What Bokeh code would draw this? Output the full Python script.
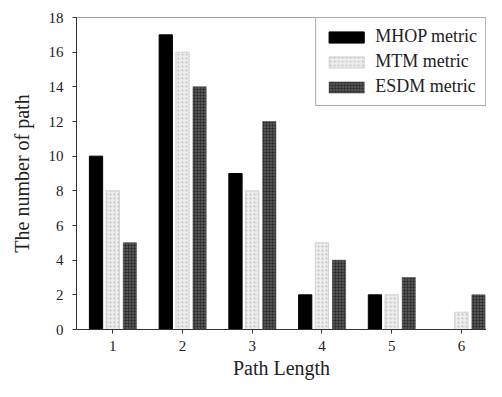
from bokeh.plotting import figure
from bokeh.models import ColumnDataSource, Span, Legend, LegendItem, FixedTicker
from bokeh.transform import dodge
from bokeh.embed import file_html
from bokeh.resources import INLINE

path_length = [1, 2, 3, 4, 5, 6]
mhop = [10, 17, 9, 2, 2, 0]
mtm = [8, 16, 8, 5, 2, 1]
esdm = [5, 14, 12, 4, 3, 2]
y_ticks = [0, 2, 4, 6, 8, 10, 12, 14, 16, 18]

src = ColumnDataSource(dict(x=path_length, mhop=mhop, mtm=mtm, esdm=esdm))

FONT = "Liberation Serif"

p = figure(width=486, height=381, output_backend="svg", toolbar_location=None,
           x_range=(0.48, 6.36), y_range=(0, 18),
           min_border_left=76, min_border_right=0, min_border_top=17, min_border_bottom=50)
p.outline_line_color = None
p.xgrid.visible = False
p.ygrid.visible = False
p.background_fill_color = "white"

w = 0.19
r1 = p.vbar(x=dodge("x", -0.24, range=p.x_range), top="mhop", width=w, source=src,
            fill_color="black", line_color="black")
r2 = p.vbar(x=dodge("x", 0.0, range=p.x_range), top="mtm", width=w, source=src,
            fill_color="#ececec", line_color="#c8c8c8", line_width=0.8,
            hatch_pattern="dot", hatch_color="#b0b0b0", hatch_scale=4, hatch_alpha=0.7)
r3 = p.vbar(x=dodge("x", 0.245, range=p.x_range), top="esdm", width=w, source=src,
            fill_color="#555555", line_color="#444444", line_width=0.5,
            hatch_pattern="cross", hatch_color="#262626", hatch_scale=3, hatch_alpha=0.6)

p.add_layout(Span(location=18, dimension="width", line_color="#444444", line_width=1))

for ax in (p.xaxis[0], p.yaxis[0]):
    ax.axis_line_color = "#333333"
    ax.major_tick_line_color = "#333333"
    ax.major_tick_out = 4
    ax.major_tick_in = 0
    ax.minor_tick_line_color = None
    ax.major_label_text_font = FONT
    ax.major_label_text_font_size = "15px"
    ax.major_label_text_color = "#222222"
    ax.axis_label_text_font = FONT
    ax.axis_label_text_font_size = "20px"
    ax.axis_label_text_font_style = "normal"
    ax.axis_label_text_color = "#222222"

p.xaxis.ticker = FixedTicker(ticks=path_length)
p.yaxis.ticker = FixedTicker(ticks=y_ticks)
p.xaxis.axis_label = "Path Length"
p.yaxis.axis_label = "The number of path"
p.xaxis.major_label_standoff = 7
p.yaxis.major_label_standoff = 9
p.xaxis.axis_label_standoff = 3
p.yaxis.axis_label_standoff = 13

legend = Legend(items=[
    LegendItem(label="MHOP metric", renderers=[r1]),
    LegendItem(label="MTM metric", renderers=[r2]),
    LegendItem(label="ESDM metric", renderers=[r3]),
], location="top_right")
legend.margin = 0
legend.padding = 8
legend.spacing = 4
legend.label_height = 20
legend.glyph_height = 14
legend.glyph_width = 44
legend.label_standoff = 7
legend.label_text_font = FONT
legend.label_text_font_size = "18px"
legend.label_text_color = "#222222"
legend.border_line_color = "#555555"
legend.border_line_width = 1
legend.background_fill_alpha = 1
p.add_layout(legend)

open("out.html", "w").write(file_html(p, INLINE))
